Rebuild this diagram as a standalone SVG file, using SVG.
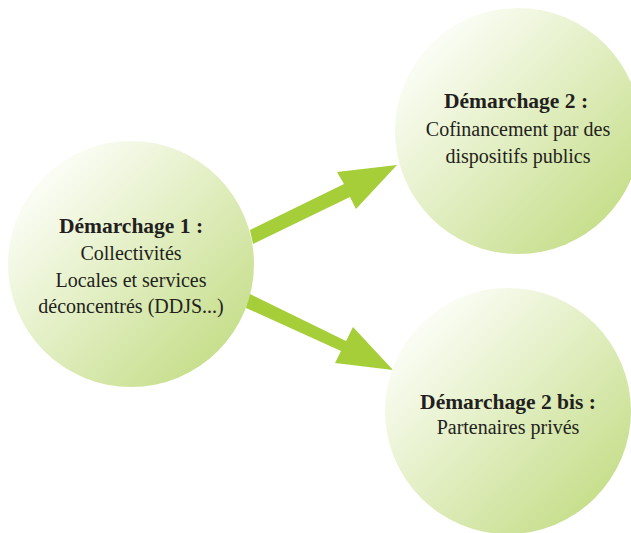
<svg xmlns="http://www.w3.org/2000/svg" width="631" height="533" viewBox="0 0 631 533">
<defs>
<linearGradient id="g" x1="0.15" y1="0.15" x2="0.85" y2="0.85">
<stop offset="0" stop-color="#fbfdf5"/>
<stop offset="1" stop-color="#c8df8e"/>
</linearGradient>
<style>
.c{fill:url(#g)}
.t{font-family:"Liberation Serif","DejaVu Serif",serif;font-size:20px;fill:#231f20;text-anchor:middle}
.b{font-weight:bold;font-size:21.5px}
.a{fill:#a6ce39}
</style>
</defs>
<rect width="631" height="533" fill="#fff"/>
<g id="connectors">
<polygon class="a" points="250,230 344,184 337,172 397,165 356,209 350,197 253,244"/>
<polygon class="a" points="248,293 346,341 353,327 393,370 335,363 341,351 246,308"/>
</g>
<g id="n1">
<circle class="c" cx="131" cy="264" r="123"/>
<text class="t b" x="131" y="233">Démarchage 1 :</text>
<text class="t" x="131" y="260">Collectivités</text>
<text class="t" x="131" y="287">Locales et services</text>
<text class="t" x="131" y="313">déconcentrés (DDJS...)</text>
</g>
<g id="n2">
<circle class="c" cx="518" cy="131" r="123"/>
<text class="t b" x="516" y="108">Démarchage 2 :</text>
<text class="t" x="518" y="136">Cofinancement par des</text>
<text class="t" x="518" y="163">dispositifs publics</text>
</g>
<g id="n3">
<circle class="c" cx="508" cy="411" r="123"/>
<text class="t b" x="508" y="409">Démarchage 2 bis :</text>
<text class="t" x="508" y="434">Partenaires privés</text>
</g>
</svg>
